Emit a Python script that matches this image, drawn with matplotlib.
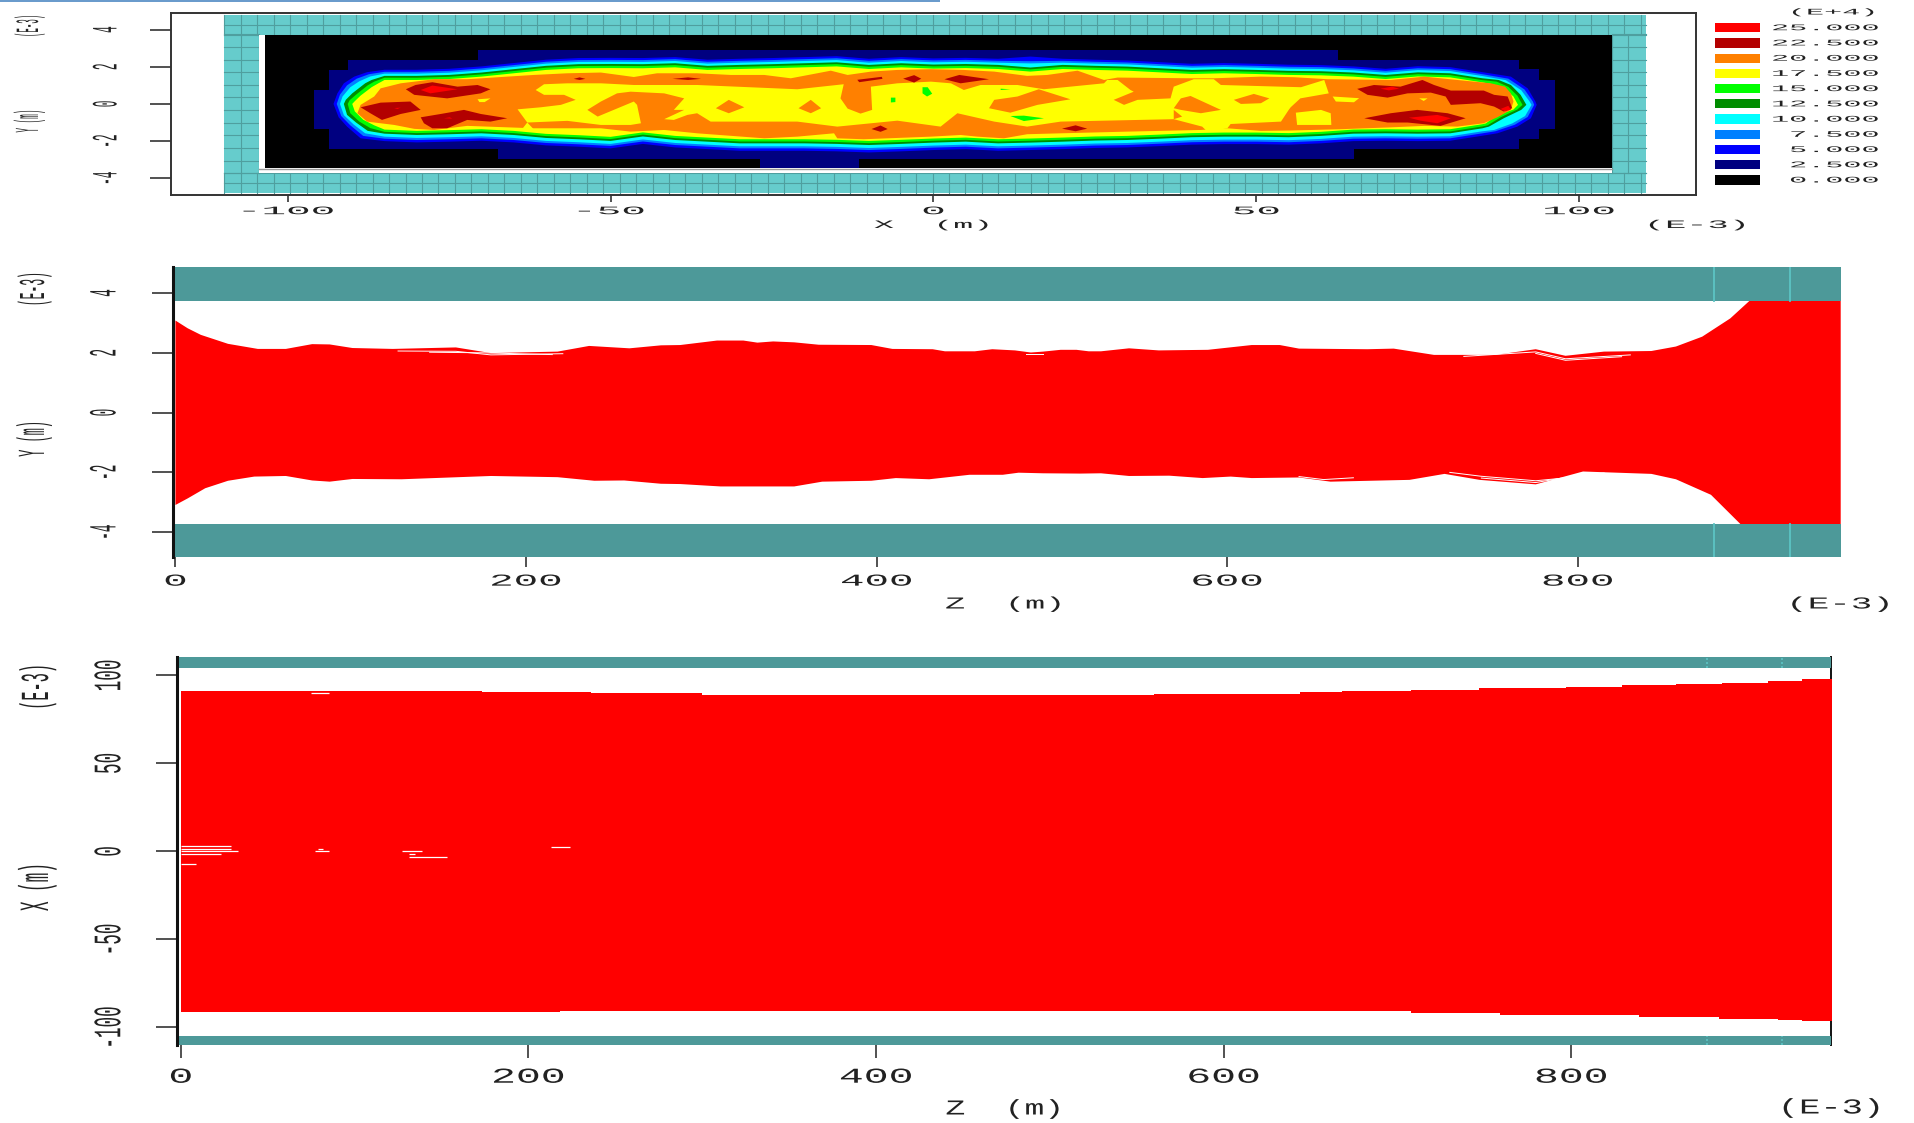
import numpy as np
import matplotlib
matplotlib.use("Agg")
import matplotlib.pyplot as plt
from matplotlib.patches import Rectangle
from matplotlib.patheffects import AbstractPathEffect
from matplotlib.transforms import Affine2D

W, H = 1914, 1123
FONT = "Liberation Mono"
INK = "#222222"

# ---------- legend ----------
LEVEL_LABELS = ["25.000", "22.500", "20.000", "17.500", "15.000", "12.500", "10.000", "7.500", "5.000", "2.500", "0.000"]
LEVEL_COLORS = ["#ff0000", "#b30000", "#ff8000", "#ffff00", "#00ff00", "#008c00", "#00ffff", "#0080ff", "#0000ff", "#000080", "#000000"]

# ---------- panel 1: level outlines (x, y in plot units, x E-3 m) ----------
STATIONS = [-85, -80, -75, -70, -65, -60, -55, -50, -45, -40, -35, -30, -25, -20, -15, -10, -5, 0, 5, 10, 15, 20, 25, 30, 35, 40, 45, 50, 55, 60, 65, 70, 75, 80, 85]

TOP_5 = [1.84,1.84,1.89,2.02,2.20,2.38,2.47,2.48,2.47,2.52,2.38,2.43,2.47,2.52,2.57,2.43,2.52,2.45,2.48,2.43,2.55,2.43,2.38,2.34,2.25,2.16,2.20,2.16,2.11,2.09,2.02,1.89,2.03,1.98,1.71]
TOP_75 = [1.73,1.73,1.78,1.91,2.09,2.27,2.36,2.37,2.36,2.41,2.27,2.32,2.36,2.41,2.46,2.32,2.41,2.34,2.37,2.32,2.30,2.32,2.27,2.23,2.14,2.05,2.09,2.05,2.00,1.98,1.91,1.78,1.92,1.87,1.60]
TOP_10 = [1.63,1.63,1.68,1.81,1.99,2.17,2.26,2.27,2.26,2.31,2.17,2.22,2.26,2.31,2.36,2.22,2.31,2.24,2.27,2.22,2.18,2.22,2.17,2.13,2.04,1.95,1.99,1.95,1.90,1.88,1.81,1.68,1.82,1.77,1.50]
TOP_125 = [1.51,1.51,1.56,1.69,1.87,2.05,2.14,2.15,2.14,2.19,2.05,2.10,2.14,2.19,2.24,2.10,2.19,2.12,2.15,2.10,1.96,2.10,2.05,2.01,1.92,1.83,1.87,1.83,1.78,1.76,1.69,1.56,1.70,1.65,1.38]
TOP_15 = [1.41,1.41,1.46,1.59,1.77,1.95,2.04,2.05,2.04,2.09,1.95,2.00,2.04,2.09,2.14,2.00,2.09,2.02,2.05,2.00,1.86,2.00,1.95,1.91,1.82,1.73,1.77,1.73,1.68,1.66,1.59,1.46,1.60,1.55,1.28]
TOP_175 = [1.29,1.29,1.34,1.47,1.65,1.83,1.92,1.93,1.92,1.97,1.83,1.88,1.92,1.97,2.02,1.88,1.97,1.90,1.93,1.88,1.74,1.88,1.83,1.79,1.70,1.61,1.65,1.61,1.56,1.54,1.47,1.34,1.48,1.43,1.16]

BOT_5 = [-2.00,-2.07,-2.03,-1.98,-2.07,-2.23,-2.30,-2.39,-2.15,-2.34,-2.43,-2.52,-2.52,-2.52,-2.55,-2.61,-2.55,-2.48,-2.43,-2.52,-2.48,-2.43,-2.37,-2.34,-2.27,-2.19,-2.16,-2.16,-2.19,-2.12,-2.00,-1.98,-2.00,-1.98,-1.71]
BOT_75 = [-1.87,-1.94,-1.90,-1.85,-1.94,-2.10,-2.17,-2.26,-2.02,-2.21,-2.30,-2.39,-2.39,-2.39,-2.42,-2.48,-2.42,-2.35,-2.30,-2.39,-2.35,-2.30,-2.24,-2.21,-2.14,-2.06,-2.03,-2.03,-2.06,-1.99,-1.87,-1.85,-1.87,-1.85,-1.58]
BOT_10 = [-1.76,-1.83,-1.79,-1.74,-1.83,-1.99,-2.06,-2.15,-1.91,-2.10,-2.19,-2.28,-2.28,-2.28,-2.31,-2.37,-2.31,-2.24,-2.19,-2.28,-2.24,-2.19,-2.13,-2.10,-2.03,-1.95,-1.92,-1.92,-1.95,-1.88,-1.76,-1.74,-1.76,-1.74,-1.47]
BOT_125 = [-1.60,-1.67,-1.63,-1.58,-1.67,-1.83,-1.90,-1.99,-1.75,-1.94,-2.03,-2.12,-2.12,-2.12,-2.15,-2.21,-2.15,-2.08,-2.03,-2.12,-2.08,-2.03,-1.97,-1.94,-1.87,-1.79,-1.76,-1.76,-1.79,-1.72,-1.60,-1.58,-1.60,-1.58,-1.31]
BOT_15 = [-1.50,-1.57,-1.53,-1.48,-1.57,-1.73,-1.80,-1.89,-1.65,-1.84,-1.93,-2.02,-2.02,-2.02,-2.05,-2.11,-2.05,-1.98,-1.93,-2.02,-1.98,-1.93,-1.87,-1.84,-1.77,-1.69,-1.66,-1.66,-1.69,-1.62,-1.50,-1.48,-1.50,-1.48,-1.21]
BOT_175 = [-1.38,-1.45,-1.41,-1.36,-1.45,-1.61,-1.68,-1.77,-1.53,-1.72,-1.81,-1.90,-1.90,-1.90,-1.93,-1.99,-1.93,-1.86,-1.81,-1.90,-1.86,-1.81,-1.75,-1.72,-1.65,-1.57,-1.54,-1.54,-1.57,-1.50,-1.38,-1.36,-1.38,-1.36,-1.09]

CAPL_5 = ([-87.7,-89.7,-91.3,-92.3,-92.9,-92.1,-90.8,-88.7], [1.71,1.47,1.11,.57,0,-.72,-1.22,-1.85])
CAPL_75 = ([-87.4,-89.3,-90.8,-91.9,-92.4,-91.7,-90.3,-88.3], [1.60,1.36,1.00,.50,0,-.65,-1.15,-1.72])
CAPL_10 = ([-87.2,-88.9,-90.3,-91.5,-91.9,-91.3,-89.8,-88.0], [1.48,1.22,.9,.40,0,-.60,-1.1,-1.58])
CAPL_125 = ([-87.0,-88.0,-90.0,-91.0,-91.3,-90.8,-89.4,-87.6], [1.29,1.11,.57,.22,0,-.59,-1.0,-1.45])
CAPL_15 = ([-86.6,-87.6,-89.4,-90.4,-90.7,-90.3,-88.9,-87.2], [1.2,1.0,.5,.2,0,-.5,-.95,-1.3])
CAPL_175 = ([-86.0,-87.0,-88.7,-89.6,-90.0,-89.6,-88.3,-86.6], [1.1,.9,.45,.15,0,-.4,-.85,-1.15])

CAPR_5 = ([89.4,92.0,93.2,93.4,92.5,90.4,87.3], [1.47,.84,.13,-.05,-.77,-1.22,-1.58])
CAPR_75 = ([89.0,91.5,92.8,93.0,92.0,90.0,87.0], [1.36,.78,.13,-.05,-.7,-1.12,-1.47])
CAPR_10 = ([88.6,91.0,92.3,92.6,91.6,89.6,86.8], [1.28,.74,.13,-.05,-.65,-1.05,-1.4])
CAPR_125 = ([87.5,89.4,90.9,91.8,91.0,88.3,86.0], [1.29,1.02,.49,-.05,-.32,-.77,-1.22])
CAPR_15 = ([87.2,89.0,90.4,91.2,90.4,87.9,85.8], [1.2,.92,.45,-.05,-.3,-.7,-1.15])
CAPR_175 = ([86.7,88.5,89.8,90.5,89.8,87.3,85.5], [1.05,.8,.4,-.05,-.3,-.6,-1.05])

NAVY_X = [-95.9,-93.6,-93.6,-90.6,-90.6,-70.5,-70.5,62.7,62.7,90.7,90.7,93.7,93.7,96.2,96.2,93.7,93.7,90.7,90.7,65.1,65.1,-11.5,-11.5,-26.8,-26.8,-67.5,-67.5,-93.6,-93.6,-95.9]
NAVY_Y = [.75,.75,1.83,1.83,2.37,2.37,2.91,2.91,2.37,2.37,1.87,1.87,1.29,1.29,-1.34,-1.34,-1.88,-1.88,-2.42,-2.42,-2.96,-2.96,-3.46,-3.46,-2.96,-2.96,-2.42,-2.42,-1.34,-1.34]

ORANGE_X = [-88.7,-86.6,-85.6,-82.5,-77.3,-72.2,-66.0,-61.9,-56.7,-51.5,-46.4,-42.8,-36.6,-31.4,-26.2,-22.1,-18.0,-15.9,-13.3,-9.7,-5.6,-.4,4.7,9.4,14.5,17.6,22.3,26.4,28.5,40.3,43.4,50.7,55.8,61.0,70.8,76.0,81.1,86.3,88.5,89.4,89.8,89.4,87.3,85.2,81.1,76.0,70.8,63.0,55.3,50.7,45.5,41.4,30.0,19.7,14.5,10.9,6.8,4.2,-.4,-10.8,-14.9,-15.4,-21.1,-26.2,-36.6,-41.7,-46.9,-51.5,-61.9,-72.2,-77.3,-80.4,-83.5,-87.7,-89.2]
ORANGE_Y = [-.05,.40,.84,1.11,1.33,1.33,1.47,1.56,1.65,1.69,1.45,1.65,1.65,1.56,1.56,1.38,1.65,1.79,1.56,1.74,1.83,1.87,1.83,1.74,1.51,1.56,1.79,1.29,1.42,1.38,1.38,1.47,1.44,1.33,1.29,1.47,1.29,1.11,.93,.57,.13,-.32,-.72,-1.04,-1.22,-1.18,-1.26,-1.36,-1.43,-1.45,-1.31,-1.40,-1.49,-1.58,-1.63,-1.85,-1.76,-1.67,-1.76,-1.90,-1.85,-1.58,-1.76,-1.85,-1.58,-1.40,-1.49,-1.31,-1.31,-1.18,-1.40,-1.34,-1.13,-.95,-.50]

YELLOW_X = [-64.4,-60.8,-57.7,-55.4,-57.2,-60.3,-61.6,-60.3,-56.7,-51.5,-46.4,-36.6,-21.1,-13.9,-14.4,-13.3,-11.3,-9.5,-9.7,-5.6,-.4,2.7,4.7,7.3,13.0,17.1,26.4,26.9,28.5,30.5,31.0,27.9,29.5,31.6,36.7,37.2,40.3,43.4,44.5,56.9,60.5,61.2,56.8,55.3,55.0,53.8,46.0,45.5,42.4,41.6,37.2,19.7,14.5,9.4,4.2,3.7,1.1,-5.6,-14.9,-21.1,-34.5,-36.6,-38.1,-40.2,-41.7,-38.6,-40.2,-38.6,-41.7,-46.9,-49.0,-51.5,-53.6,-52.0,-46.4,-45.9,-45.3,-46.9,-51.5,-56.7,-62.9]
YELLOW_Y = [-.29,-.18,-.05,.22,.49,.49,.75,1.06,1.11,1.11,1.02,1.02,.79,1.06,.30,-.25,-.52,-.32,.93,1.11,1.20,1.11,.75,1.02,1.02,.79,1.11,1.29,1.29,.75,.66,.22,-.05,.22,.30,.93,1.33,1.33,1.02,.90,1.29,.57,.30,-.18,-.32,-.95,-1.08,-1.31,-1.49,-1.22,-.82,-.95,-1.22,-.95,-.54,-.50,-1.22,-.90,-1.22,-.95,-.95,-.50,-.59,-.86,-.82,-.32,-.32,.30,.57,.66,.57,.13,-.32,-.68,.13,-.05,-1.04,-1.13,-1.13,-.91,-1.0]

YELLOW_PATCHES = [
    ([56.1,60.0,61.5,61.6,56.3], [-.47,-.32,-.50,-1.13,-1.13]),
    ([61.8,65.9,65.1,62.3], [.40,.31,.09,.13]),
    ([75.2,76.5,75.9], [.30,.30,.16]),
    ([-70.6,-68.6,-69.5,-70.3], [.25,.30,.10,.10]),
    ([-62.9,-61.8,-63.8], [-1.0,-1.4,-1.4]),
]
ORANGE_PATCHES = [
    ([-33.7,-31.7,-29.3,-31.7], [-.23,.22,-.18,-.50]),
    ([-20.9,-19.0,-17.4,-19.0], [-.23,.22,-.23,-.50]),
    ([8.6,9.4,13.0,16.3,21.2,16.1,11.9], [-.23,.22,.40,.79,.25,-.05,-.47]),
    ([37.2,38.3,39.8,44.5,41.4,38.3], [-.23,.30,.43,-.32,-.50,-.32]),
    ([46.5,49.6,52.0,50.7,47.6], [.22,.54,.30,.04,0]),
    ([37.2,38.5,37.2], [-.32,-.68,-.82]),
]
GREEN_PATCHES = [
    ([-1.7,-.9,-.2,-1.0,-1.7], [.9,.9,.55,.4,.57]),
    ([-6.6,-5.9,-5.9,-6.6], [.34,.34,.1,.08]),
    ([11.9,14.0,17.1,14.0], [-.65,-.63,-.77,-.92]),
    ([10.4,11.9,10.4], [.82,.79,.75]),
]
DARKRED_PATCHES = [
    ([-81.7,-80.2,-77.6,-73.7,-70.6,-68.6,-70.1,-75.3,-80.4], [.79,1.02,1.17,.93,1.02,.79,.57,.30,.49]),
    ([-88.7,-85.6,-81.0,-79.4,-82.5,-85.4,-87.2], [-.18,.07,.13,-.32,-.54,-.86,-.50]),
    ([-79.4,-76.3,-72.7,-70.1,-66.0,-68.6,-72.2,-75.3,-77.6,-78.9], [-.72,-.54,-.32,-.54,-.77,-.95,-.86,-1.31,-1.31,-1.04]),
    ([-55.7,-54.8,-53.9,-54.8], [1.35,1.43,1.35,1.29]),
    ([-40.4,-38.0,-36.0,-38.0], [1.35,1.43,1.35,1.29]),
    ([-11.8,-8.0,-7.9,-11.5], [1.3,1.46,1.35,1.17]),
    ([-4.7,-3.0,-1.9,-3.0], [1.36,1.55,1.36,1.15]),
    ([1.7,4.0,8.6,4.2], [1.33,1.56,1.33,1.11]),
    ([-9.6,-8.2,-7.1,-8.2], [-1.35,-1.16,-1.35,-1.5]),
    ([19.9,22.0,23.8,22.0], [-1.33,-1.15,-1.33,-1.47]),
    ([65.6,68.2,72.3,75.7,77.5,80.1,85.2,86.8,88.9,89.6,88.3,86.8,84.7,80.1,79.3,77.0,73.4,70.3,67.2], [.81,1.02,.93,1.29,1.02,.72,.72,.49,.40,-.23,-.41,-.14,.04,-.05,.40,.61,.57,.34,.49]),
    ([66.7,70.8,74.9,79.6,82.4,78.5,73.4,70.3], [-.77,-.50,-.32,-.50,-.77,-1.18,-1.0,-1.0]),
]
RED_PATCHES = [
    ([-79.4,-77.6,-73.7,-77.9], [.75,.99,.79,.57]),
    ([-83.5,-82.5,-83.0], [-.22,-.20,-.27]),
    ([-75.8,-74.9,-74.5], [-.77,-.72,-.79]),
    ([69.2,71.0,72.1,70.5], [.82,.93,.82,.73]),
    ([87.8,89.0,89.4,88.5], [-.27,-.10,-.30,-.40]),
    ([73.6,78.0,80.1,78.0,75.4], [-.74,-.59,-.77,-1.04,-.90]),
]

# ---------- panel 2: envelope (z E-3 m, y E-3 m) ----------
YZ_TOP_Z = [0,7,14.5,30,47,63,78,88,101,124,160,180,218,236,259,277,288,309,324,332,341,353,367,397,409,432,439,456,466,479,488,495,505,514,521,528,544,561,589,614,630,641,680,695,718,753,776,793,815,842,856,871,887,898,950]
YZ_TOP_Y = [3.08,2.82,2.60,2.30,2.13,2.13,2.29,2.28,2.16,2.13,2.18,1.99,2.04,2.23,2.15,2.25,2.26,2.41,2.41,2.34,2.38,2.35,2.27,2.26,2.13,2.12,2.05,2.05,2.12,2.08,2.01,2.04,2.10,2.10,2.05,2.05,2.15,2.08,2.10,2.26,2.26,2.14,2.12,2.14,1.93,1.93,2.12,1.90,2.04,2.06,2.21,2.54,3.15,3.74,3.74]
YZ_BOT_Z = [0,7,17,30,45,63,78,88,101,129,180,218,239,256,277,288,311,353,369,397,411,430,453,472,481,495,516,528,544,567,586,602,614,641,659,704,724,744,776,803,842,856,876,893,950]
YZ_BOT_Y = [-3.09,-2.87,-2.53,-2.28,-2.14,-2.12,-2.27,-2.31,-2.22,-2.23,-2.12,-2.16,-2.28,-2.27,-2.38,-2.39,-2.47,-2.47,-2.31,-2.28,-2.19,-2.23,-2.08,-2.08,-2.01,-2.03,-2.04,-2.03,-2.12,-2.11,-2.19,-2.14,-2.19,-2.17,-2.31,-2.25,-2.05,-2.25,-2.40,-1.97,-2.05,-2.23,-2.75,-3.74,-3.74]
YZ_SLIVERS = [
    ([127,160,180,221], [2.06,2.05,1.93,1.97]),
    ([145,175,215], [2.02,2.00,1.94]),
    ([735,776,793,830], [1.88,2.03,1.80,1.93]),
    ([776,793,825], [1.98,1.75,1.87]),
    ([641,655,672], [-2.14,-2.24,-2.18]),
    ([727,745,776,790], [-2.00,-2.13,-2.28,-2.20]),
    ([745,776,795,815], [-2.19,-2.34,-2.15,-2.02]),
    ([485,495], [1.97,1.97]),
]

# ---------- panel 3: envelope (z, x) ----------
XZ_EDGES = [0,173,218,236,300,450,560,644,668,708,747,759,797,829,839,860,885,887,913,919,933,950]
XZ_TOP = [91.3,90.3,90.3,89.8,88.9,88.6,89.2,90.3,91.0,91.8,92.6,92.6,93.4,94.3,94.3,95.2,95.2,95.9,96.9,96.9,97.7,97.7]
XZ_BOT = [-91.5,-91.5,-90.7,-90.7,-90.7,-90.7,-90.7,-90.7,-90.7,-92.0,-92.0,-93.2,-93.2,-93.2,-94.0,-94.0,-95.1,-95.1,-95.1,-95.9,-96.4,-96.4]
XZ_GAP_Z0 = [0,0,0,0,0,75,79,77,127,131,131,213]
XZ_GAP_Z1 = [29,29,32.6,23,8.5,85,82,85,139,135,153,224]
XZ_GAP_X = [3.0,1.5,0,-1.7,-7.4,90.2,1.5,0,0,-1.7,-3.4,2.3]

GUIDE_Z = [878, 921]
XY_XTICKS = [-100, -50, 0, 50, 100]
XY_YTICKS = [-4, -2, 0, 2, 4]
ZY_XTICKS = [0, 200, 400, 600, 800]
ZY_YTICKS = [-4, -2, 0, 2, 4]
ZX_XTICKS = [0, 200, 400, 600, 800]
ZX_YTICKS = [-100, -50, 0, 50, 100]


class Stretch(AbstractPathEffect):
    """Scale glyphs along (sx) and across (sy) the reading direction."""
    def __init__(self, sx=1.0, sy=1.0, anchor="center"):
        super().__init__()
        self.sx, self.sy, self.anchor = sx, sy, anchor

    def draw_path(self, renderer, gc, tpath, affine, rgbFace=None):
        e = tpath.get_extents()
        c = e.x1 if self.anchor == "right" else 0.5 * (e.x0 + e.x1)
        a = Affine2D().translate(-c, 0).scale(self.sx, self.sy).translate(c, 0) + affine
        renderer.draw_path(gc, tpath, a, rgbFace)


plt.rcParams["font.family"] = FONT
fig = plt.figure(figsize=(W / 100, H / 100), dpi=100, facecolor="white")


def add_axes(left, top, right, bottom):
    return fig.add_axes([left / W, 1 - bottom / H, (right - left) / W, (bottom - top) / H])


def style_ticks(ax, xt, yt, xlen, pad_x, pad_y, xsize, xs, ysize, ysy):
    ax.set_xticks(xt)
    ax.set_xticklabels([str(v) for v in xt])
    ax.set_yticks(yt)
    ax.set_yticklabels([str(v) for v in yt], rotation=90, va="center")
    ax.tick_params(axis="x", length=xlen * 0.72, width=1.1, color=INK, pad=pad_x, labelcolor=INK)
    ax.tick_params(axis="y", length=21 * 0.72, width=1.1, color=INK, pad=pad_y, labelcolor=INK)
    for t in ax.get_xticklabels():
        t.set_fontsize(xsize)
        t.set_path_effects([Stretch(sx=xs)])
    for t in ax.get_yticklabels():
        t.set_fontsize(ysize)
        t.set_path_effects([Stretch(sy=ysy)])


# ---------- overlay for page furniture ----------
page = fig.add_axes([0, 0, 1, 1], zorder=10)
page.set_xlim(0, W)
page.set_ylim(H, 0)
page.axis("off")
page.patch.set_alpha(0)


def label(x, y, s, size, sx, ha="center", anchor="center"):
    page.text(x, y, s, fontsize=size, color=INK, ha=ha, va="center", family=FONT,
              path_effects=[Stretch(sx=sx, anchor=anchor)])


def vlabel(x_baseline, y, s, size, sy):
    page.text(x_baseline, y, s, fontsize=size, color=INK, ha="center", va="baseline", rotation=90,
              rotation_mode="anchor", family=FONT, path_effects=[Stretch(sy=sy)])


page.add_patch(Rectangle((0, 0), 940, 2.2, facecolor="#6a9bcc", edgecolor="none"))

# ---------- panel 1 ----------
ax1 = add_axes(171.4, 12.7, 1695.6, 195)
ax1.set_xlim(-118, 118)
ax1.set_ylim(-4.9, 4.91)
for s in ax1.spines.values():
    s.set_color("#333333")
    s.set_linewidth(1.4)

CELL = "#66cccc"
CELL_LINE = "#4f9f9f"
ax1.add_patch(Rectangle((-109.8, -4.8), 220.1, 9.59, facecolor=CELL, edgecolor="none", zorder=1))
for vx in np.arange(-109.8, 110.4, 2.55):
    ax1.plot([vx, vx], [3.73, 4.79], color=CELL_LINE, lw=0.8, zorder=1.1)
    ax1.plot([vx, vx], [-4.8, -3.73], color=CELL_LINE, lw=0.8, zorder=1.1)
for hy in (4.26, 3.73, -3.73, -4.26):
    ax1.plot([-109.8, 110.3], [hy, hy], color=CELL_LINE, lw=0.8, zorder=1.1)
for vx in (-107.2, -104.5, 105.0, 107.6):
    ax1.plot([vx, vx], [-3.73, 3.73], color=CELL_LINE, lw=0.8, zorder=1.1)
for hy in np.arange(-3.73, 3.8, 0.68):
    ax1.plot([-109.8, -104.5], [hy, hy], color=CELL_LINE, lw=0.8, zorder=1.1)
    ax1.plot([105.0, 110.3], [hy, hy], color=CELL_LINE, lw=0.8, zorder=1.1)
ax1.add_patch(Rectangle((-104.4, -3.73), 209.4, 7.46, facecolor="white", edgecolor="none", zorder=1.2))
ax1.add_patch(Rectangle((-103.5, -3.46), 208.5, 7.19, facecolor="#000000", edgecolor="none", zorder=1.3))
ax1.plot([-104.4, 105], [-3.49, -3.49], color="#999999", lw=1, zorder=1.25)

Z = 2
ax1.fill(NAVY_X, NAVY_Y, color="#000080", lw=0, zorder=Z)


def band(top, bot, capl, capr, color):
    xs = list(STATIONS) + capr[0] + list(STATIONS[::-1]) + capl[0][::-1]
    ys = list(top) + capr[1] + list(bot[::-1]) + capl[1][::-1]
    ax1.fill(xs, ys, color=color, lw=0, zorder=Z)


band(TOP_5, BOT_5, CAPL_5, CAPR_5, "#0000ff")
band(TOP_75, BOT_75, CAPL_75, CAPR_75, "#0080ff")
band(TOP_10, BOT_10, CAPL_10, CAPR_10, "#00ffff")
band(TOP_125, BOT_125, CAPL_125, CAPR_125, "#008c00")
band(TOP_15, BOT_15, CAPL_15, CAPR_15, "#00ff00")
band(TOP_175, BOT_175, CAPL_175, CAPR_175, "#ffff00")
ax1.fill(ORANGE_X, ORANGE_Y, color="#ff8000", lw=0, zorder=Z)
ax1.fill(YELLOW_X, YELLOW_Y, color="#ffff00", lw=0, zorder=Z)
for px, py in YELLOW_PATCHES:
    ax1.fill(px, py, color="#ffff00", lw=0, zorder=Z)
for px, py in ORANGE_PATCHES:
    ax1.fill(px, py, color="#ff8000", lw=0, zorder=Z)
for px, py in GREEN_PATCHES:
    ax1.fill(px, py, color="#00ff00", lw=0, zorder=Z)
for px, py in DARKRED_PATCHES:
    ax1.fill(px, py, color="#b30000", lw=0, zorder=Z)
for px, py in RED_PATCHES:
    ax1.fill(px, py, color="#ff0000", lw=0, zorder=Z)
style_ticks(ax1, XY_XTICKS, XY_YTICKS, 7, 3, 23, 8.2, 3.6, 8, 3.2)

label(932, 225, "X  (m)", 8.2, 2.9)
label(1697, 225, "(E-3)", 8.2, 3.1)
vlabel(38, 121, "Y (m)", 5.5, 4.4)
vlabel(38, 26, "(E-3)", 5.3, 4.4)

# legend
SW_L, SW_R = 1715, 1760
for i, (lab, col) in enumerate(zip(LEVEL_LABELS, LEVEL_COLORS)):
    yc = 27.7 + i * 15.23
    page.add_patch(Rectangle((SW_L, yc - 4.6), SW_R - SW_L, 9.2, facecolor=col, edgecolor="none"))
    label(1878, yc, lab, 6.2, 3.5, ha="right", anchor="right")
label(1833, 12, "(E+4)", 6.2, 3.5)

# ---------- panel 2 ----------
TEAL = "#4d9999"
ax2 = add_axes(172.8, 267.3, 1840.7, 556.7)
ax2.set_xlim(-1.5, 950)
ax2.set_ylim(-4.82, 4.86)
for k in ("top", "right", "bottom"):
    ax2.spines[k].set_visible(False)
ax2.spines["left"].set_linewidth(2.2)
ax2.spines["left"].set_color("#111111")
ax2.spines["left"].set_zorder(6)
ax2.fill(YZ_TOP_Z + YZ_BOT_Z[::-1], YZ_TOP_Y + YZ_BOT_Y[::-1], color="#ff0000", lw=0, zorder=3)
for sz, sy in YZ_SLIVERS:
    ax2.plot(sz, sy, color="white", lw=0.7, zorder=3.2)
ax2.add_patch(Rectangle((-1.5, 3.74), 951.5, 1.12, facecolor=TEAL, edgecolor="none", zorder=4))
ax2.add_patch(Rectangle((-1.5, -4.82), 951.5, 1.09, facecolor=TEAL, edgecolor="none", zorder=4))
for gz in GUIDE_Z:
    ax2.plot([gz, gz], [3.74, 4.86], color="#5cc4c4", lw=1.3, zorder=4.1)
    ax2.plot([gz, gz], [-4.82, -3.73], color="#5cc4c4", lw=1.3, zorder=4.1)
style_ticks(ax2, ZY_XTICKS, ZY_YTICKS, 10, 5, 24, 12, 2.45, 9.2, 3.0)

label(1004, 604, "Z  (m)", 12, 2.0)
label(1840, 604, "(E-3)", 12, 2.15)
vlabel(44, 439, "Y (m)", 8.6, 3.2)
vlabel(44, 289, "(E-3)", 8.2, 3.2)

# ---------- panel 3 ----------
ax3 = add_axes(177.2, 656.7, 1831.3, 1045)
ax3.set_xlim(-2.1, 949.6)
ax3.set_ylim(-110, 110.6)
for k in ("top", "bottom"):
    ax3.spines[k].set_visible(False)
ax3.spines["left"].set_linewidth(2.2)
ax3.spines["left"].set_color("#111111")
ax3.spines["left"].set_zorder(6)
ax3.spines["right"].set_linewidth(1.4)
ax3.spines["right"].set_color("#111111")
ax3.spines["right"].set_zorder(1)
ax3.fill_between(XZ_EDGES, XZ_BOT, XZ_TOP, step="post", color="#ff0000", lw=0, zorder=3)
ax3.hlines(XZ_GAP_X, XZ_GAP_Z0, XZ_GAP_Z1, color="white", lw=0.9, zorder=3.2)
ax3.add_patch(Rectangle((-2.1, 104.3), 951.7, 6.3, facecolor=TEAL, edgecolor="none", zorder=4))
ax3.add_patch(Rectangle((-2.1, -110), 951.7, 5.2, facecolor=TEAL, edgecolor="none", zorder=4))
for gz in GUIDE_Z:
    ax3.plot([gz, gz], [104.3, 110.6], color="#5cc4c4", lw=1.2, ls=(0, (1.2, 1.2)), zorder=4.1)
    ax3.plot([gz, gz], [-110, -104.8], color="#5cc4c4", lw=1.2, ls=(0, (1.2, 1.2)), zorder=4.1)
style_ticks(ax3, ZX_XTICKS, ZX_YTICKS, 13, 7, 23, 15.3, 1.95, 12.7, 2.2)

label(1004, 1109, "Z  (m)", 15.3, 1.55)
label(1831, 1108, "(E-3)", 15.3, 1.67)
vlabel(48, 887, "X (m)", 11.5, 2.6)
vlabel(48, 687, "(E-3)", 11, 2.6)

fig.savefig("out.png", dpi=100, facecolor="white")
